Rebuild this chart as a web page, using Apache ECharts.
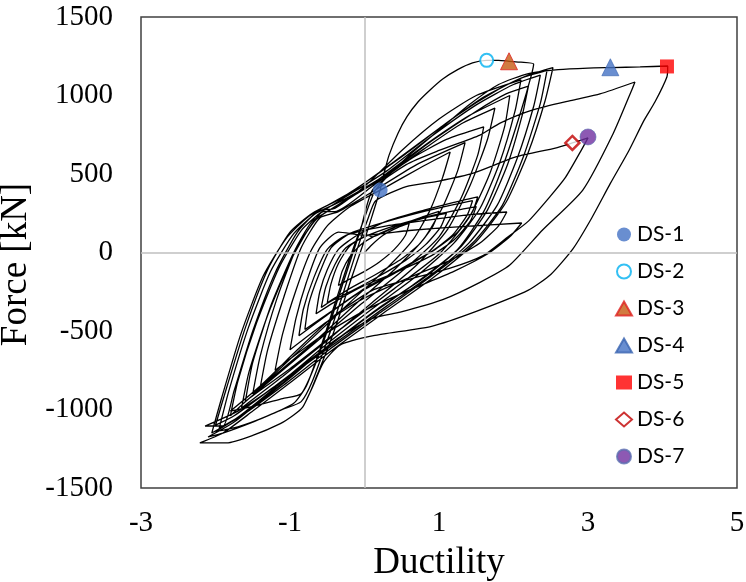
<!DOCTYPE html>
<html>
<head>
<meta charset="utf-8">
<script src="https://cdn.jsdelivr.net/npm/echarts@6/dist/echarts.min.js"></script>
<style>
  html, body { margin: 0; padding: 0; background: #fff; }
  #chart { width: 746px; height: 582px; }
</style>
</head>
<body>
<div id="chart"></div>
<script>
// Cyclic load test record: ductility vs. force [kN], split into loading cycles.
const cycle01  = [[0,0],[0.1,50],[0.25,110],[0.45,160],[0.6,185],[0.55,110],[0.4,20],[0.2,-60],[0,-120],[-0.2,-170],[-0.35,-210],[-0.3,-120],[-0.2,-30],[-0.05,50]];
const cycle02  = [[0.2,120],[0.5,180],[0.8,230],[1.0,262],[0.92,170],[0.75,60],[0.5,-40],[0.15,-140],[-0.2,-230],[-0.4,-290],[-0.5,-320],[-0.45,-200],[-0.35,-70],[-0.2,40],[0.05,110]];
const cycle02b = [[0.1,100],[0.45,170],[0.85,225],[1.1,250],[1.02,160],[0.82,50],[0.55,-50],[0.2,-150],[-0.15,-240],[-0.45,-310],[-0.58,-350],[-0.52,-220],[-0.4,-80],[-0.25,30],[0.0,100]];
const cycle03  = [[0.4,170],[0.9,235],[1.3,275],[1.5,292],[1.42,200],[1.2,80],[0.9,-20],[0.5,-110],[0.0,-210],[-0.35,-300],[-0.65,-390],[-0.6,-250],[-0.5,-110],[-0.35,20],[-0.1,110]];
const cycle04  = [[0.3,200],[0.8,270],[1.2,320],[1.52,355],[1.45,260],[1.25,130],[0.95,20],[0.5,-100],[0.0,-230],[-0.4,-360],[-0.8,-490],[-0.75,-330],[-0.62,-150],[-0.45,30],[-0.2,120]];
const cycle04b = [[0.25,190],[0.75,255],[1.15,300],[1.45,330],[1.38,240],[1.18,110],[0.88,0],[0.45,-120],[-0.05,-250],[-0.45,-380],[-0.88,-530],[-0.82,-360],[-0.68,-160],[-0.5,20],[-0.25,110]];
const cycle05  = [[0.3,170],[0.9,210],[1.4,240],[1.91,258],[1.8,170],[1.55,60],[1.15,-50],[0.6,-160],[0.0,-290],[-0.5,-440],[-1.0,-620],[-0.92,-420],[-0.78,-190],[-0.6,30],[-0.35,130]];
const cycle06  = [[0.0,110],[0.6,140],[1.3,165],[2.11,188],[1.95,100],[1.65,-10],[1.2,-120],[0.6,-240],[0.0,-370],[-0.6,-540],[-1.2,-750],[-1.1,-520],[-0.92,-240],[-0.72,10],[-0.5,170]];
const cycle07  = [[-0.2,290],[0.3,420],[0.75,540],[1.15,640],[1.05,480],[0.88,270],[0.65,80],[0.3,-100],[-0.2,-320],[-0.8,-590],[-1.4,-860],[-1.3,-620],[-1.08,-280],[-0.85,30],[-0.6,220]];
const cycle07b = [[-0.35,260],[0.15,400],[0.7,560],[1.35,700],[1.25,520],[1.05,290],[0.8,90],[0.4,-110],[-0.1,-320],[-0.7,-580],[-1.25,-800],[-1.5,-900],[-1.4,-660],[-1.18,-300],[-0.92,20],[-0.65,210]];
const cycle08  = [[-0.3,320],[0.2,460],[0.8,660],[1.3,820],[1.75,920],[1.65,720],[1.42,430],[1.12,150],[0.7,-80],[0.1,-320],[-0.5,-560],[-1.1,-790],[-1.65,-990],[-1.55,-760],[-1.3,-400],[-1.0,-60],[-0.75,150],[-0.55,260]];
const cycle08c = [[-0.4,260],[0.1,420],[0.6,590],[1.1,720],[1.6,800],[1.52,620],[1.3,350],[1.0,100],[0.55,-100],[-0.05,-330],[-0.7,-590],[-1.3,-830],[-1.6,-950],[-1.5,-700],[-1.25,-330],[-0.95,0],[-0.7,200]];
const cycle08b = [[-0.35,300],[0.2,470],[0.8,680],[1.4,870],[1.95,1000],[1.88,800],[1.68,500],[1.4,220],[1.0,-10],[0.4,-230],[-0.3,-480],[-1.0,-740],[-1.55,-930],[-1.8,-1040],[-1.7,-820],[-1.45,-450],[-1.15,-100],[-0.85,140],[-0.6,250]];
const cycle09  = [[-0.3,340],[0.3,520],[0.9,740],[1.5,940],[2.0,1070],[2.36,1130],[2.27,930],[2.05,600],[1.78,300],[1.4,60],[0.9,-140],[0.3,-340],[-0.4,-580],[-1.1,-820],[-1.7,-1010],[-2.14,-1105],[-1.9,-1105],[-1.75,-880],[-1.5,-500],[-1.2,-130],[-0.9,130],[-0.62,265]];
const cycle09c = [[-0.4,280],[0.0,420],[0.5,650],[1.0,850],[1.5,1000],[2.1,1100],[2.02,900],[1.82,580],[1.55,280],[1.2,60],[0.7,-150],[0.1,-360],[-0.55,-600],[-1.2,-860],[-1.7,-1050],[-1.95,-1120],[-1.82,-880],[-1.56,-480],[-1.26,-120],[-0.95,120],[-0.65,250]];
const cycle09b = [[-0.3,330],[0.3,500],[0.9,710],[1.5,900],[1.9,1010],[2.2,1060],[2.12,880],[1.92,560],[1.65,270],[1.3,40],[0.8,-160],[0.2,-350],[-0.5,-600],[-1.2,-850],[-1.75,-1040],[-2.0,-1100],[-1.85,-860],[-1.6,-480],[-1.3,-110],[-1.0,130],[-0.7,250]];
const cycle10b = [[-0.25,360],[0.4,580],[1.0,790],[1.6,990],[2.1,1110],[2.45,1160],[2.36,950],[2.14,620],[1.85,300],[1.45,60],[0.9,-150],[0.25,-370],[-0.45,-610],[-1.1,-850],[-1.65,-1040],[-2.05,-1150],[-1.92,-930],[-1.66,-520],[-1.36,-150],[-1.05,90],[-0.75,230]];
const cycle10  = [[-0.2,380],[0.5,610],[1.2,860],[1.8,1040],[2.2,1130],[2.53,1178],[2.42,960],[2.2,640],[1.9,320],[1.5,70],[0.95,-150],[0.3,-370],[-0.4,-610],[-1.0,-830],[-1.5,-1010],[-1.9,-1150],[-2.21,-1213],[-1.85,-1213]];
const cycle11  = [[-1.5,-1165],[-1.13,-1090],[-0.95,-1035],[-0.83,-985],[-0.73,-890],[-0.64,-785],[-0.5,-620],[-0.35,-420],[-0.18,-170],[0.0,80],[0.1,230],[0.21,400],[0.26,500],[0.33,620],[0.45,760],[0.57,865],[0.72,960],[0.88,1035],[1.05,1105],[1.25,1165],[1.45,1208],[1.64,1224],[1.8,1224],[1.94,1218],[2.1,1212],[2.27,1200],[2.24,1130],[2.1,900],[1.88,580],[1.6,260],[1.25,20],[0.7,-190],[0.1,-390],[-0.6,-640],[-1.2,-870],[-1.75,-1080],[-2.1,-1175],[-1.9,-1150],[-1.5,-1080],[-1.1,-1000],[-0.85,-950],[-0.7,-820],[-0.5,-560],[-0.3,-280],[-0.1,20],[0.05,220],[0.15,330]];
const cycle12  = [[0.56,420],[1.0,455],[1.46,505],[2.04,610],[2.56,665],[2.79,698],[3.0,730],[2.92,660],[2.7,480],[2.49,356],[2.2,200],[1.9,90],[1.59,-20],[1.15,-100],[0.61,-170],[0.11,-240],[-0.4,-400],[-0.9,-620],[-1.4,-850],[-1.8,-1010],[-1.5,-980],[-1.1,-930],[-0.85,-900],[-0.65,-700],[-0.45,-430],[-0.25,-140],[-0.05,150],[0.11,400]];
const cycle13  = [[0.56,560],[1.0,650],[1.55,748],[1.82,824],[2.26,908],[2.8,971],[3.16,1010],[3.63,1086],[3.6,1050],[3.34,760],[2.93,398],[2.39,143],[1.95,-80],[1.55,-190],[1.05,-300],[0.48,-380],[0.11,-420],[-0.4,-560],[-1.0,-800],[-1.6,-1020],[-2.0,-1140],[-1.7,-1110],[-1.3,-1040],[-0.95,-960],[-0.78,-850],[-0.6,-620],[-0.4,-330],[-0.2,-40],[0.0,220],[0.15,400]];
const cycle14  = [[0.6,620],[1.0,780],[1.4,940],[1.8,1070],[2.2,1140],[2.6,1165],[3.0,1175],[3.32,1178],[3.7,1182],[4.07,1188],[4.06,1120],[3.9,960],[3.75,840],[3.55,650],[3.3,440],[3.05,220],[2.8,25],[2.5,-140],[2.2,-240],[1.5,-375],[0.9,-470],[0.12,-530],[-0.33,-590],[-0.55,-700],[-0.7,-860],[-0.8,-960]];

// Damage-state markers
const dsNames     = ['DS-1', 'DS-2', 'DS-3', 'DS-4', 'DS-5', 'DS-6', 'DS-7'];
const dsDuctility = [0.21, 1.64, 1.94, 3.30, 4.06, 2.79, 3.00];
const dsForce     = [398, 1224, 1218, 1180, 1185, 698, 736];

// Axis ticks
const xTicks = { min: -3, max: 5, step: 2 };
const yTicks = { min: -1500, max: 1500, step: 500 };

const hysteresis = [].concat(
  cycle01, cycle02, cycle02b, cycle03, cycle04, cycle04b, cycle05, cycle06,
  cycle07, cycle07b, cycle08, cycle08c, cycle08b, cycle09, cycle09c, cycle09b,
  cycle10b, cycle10, cycle11, cycle12, cycle13, cycle14
);

const dsStyles = [
  { symbol: 'circle',   size: 15, itemStyle: { color: '#4472C4' } },
  { symbol: 'circle',   size: 13, itemStyle: { color: '#ffffff', borderColor: '#00B0F0', borderWidth: 2 } },
  { symbol: 'triangle', size: 17, itemStyle: { color: '#C55A11', borderColor: '#E02020', borderWidth: 1 } },
  { symbol: 'triangle', size: 17, itemStyle: { color: '#4472C4', borderColor: '#3A64B0', borderWidth: 0.8 } },
  { symbol: 'rect',     size: 14, itemStyle: { color: '#FF0000' } },
  { symbol: 'diamond',  size: 14, itemStyle: { color: '#ffffff', borderColor: '#C00000', borderWidth: 2.5 } },
  { symbol: 'circle',   size: 16, itemStyle: { color: '#7030A0', borderColor: '#5B6FB0', borderWidth: 0.8 } }
];

const serif = 'Liberation Serif';

const series = [
  {
    // zero reference lines
    type: 'line',
    data: [],
    z: 1,
    silent: true,
    markLine: {
      silent: true,
      symbol: ['none', 'none'],
      animation: false,
      label: { show: false },
      lineStyle: { color: '#BFBFBF', width: 1.5, type: 'solid' },
      data: [{ xAxis: 0 }, { yAxis: 0 }]
    }
  },
  {
    name: 'Hysteresis',
    type: 'line',
    data: hysteresis,
    z: 2,
    showSymbol: false,
    smooth: 0.2,
    animation: false,
    lineStyle: { color: '#000000', width: 1.3 }
  }
];

dsNames.forEach(function (name, i) {
  series.push({
    name: name,
    type: 'scatter',
    z: 5,
    animation: false,
    symbol: dsStyles[i].symbol,
    symbolSize: dsStyles[i].size,
    itemStyle: dsStyles[i].itemStyle,
    data: [[dsDuctility[i], dsForce[i]]]
  });
});

// tick labels as rich text so the serif face is used
const tickRich = { t: { fontFamily: serif, fontSize: 29, color: '#000', lineHeight: 30 } };
const tickText = function (v) { return '{t|' + v + '}'; };

const chart = echarts.init(document.getElementById('chart'), null, { renderer: 'canvas' });
chart.setOption({
  backgroundColor: '#ffffff',
  animation: false,
  textStyle: { fontFamily: serif },
  grid: {
    left: 141, right: 9, top: 17, bottom: 94,
    containLabel: false,
    outerBoundsMode: 'none',
    show: true, borderColor: '#404040', borderWidth: 1.5
  },
  xAxis: {
    type: 'value',
    min: xTicks.min, max: xTicks.max, interval: xTicks.step,
    axisLine: { show: false },
    axisTick: { show: false },
    splitLine: { show: false },
    axisLabel: { fontFamily: serif, fontSize: 29, color: '#000', margin: 20, formatter: tickText, rich: tickRich },
    name: 'Ductility',
    nameLocation: 'middle',
    nameGap: 57,
    nameTextStyle: { fontFamily: serif, fontSize: 37, color: '#000' }
  },
  yAxis: {
    type: 'value',
    min: yTicks.min, max: yTicks.max, interval: yTicks.step,
    axisLine: { show: false },
    axisTick: { show: false },
    splitLine: { show: false },
    axisLabel: { fontFamily: serif, fontSize: 29, color: '#000', margin: 28, formatter: tickText, rich: tickRich },
    name: 'Force [kN]',
    nameLocation: 'middle',
    nameGap: 102,
    nameRotate: 90,
    nameTextStyle: { fontFamily: serif, fontSize: 37, color: '#000', padding: [0, 24, 0, 0] }
  },
  legend: {
    data: dsNames,
    orient: 'vertical',
    left: 615,
    top: 224,
    itemWidth: 16,
    itemHeight: 14,
    itemGap: 16,
    itemTextGap: 16,
    padding: 0,
    selectedMode: false,
    textStyle: { fontFamily: 'Lato', fontSize: 21, color: '#000' }
  },
  series: series
});
</script>
</body>
</html>
